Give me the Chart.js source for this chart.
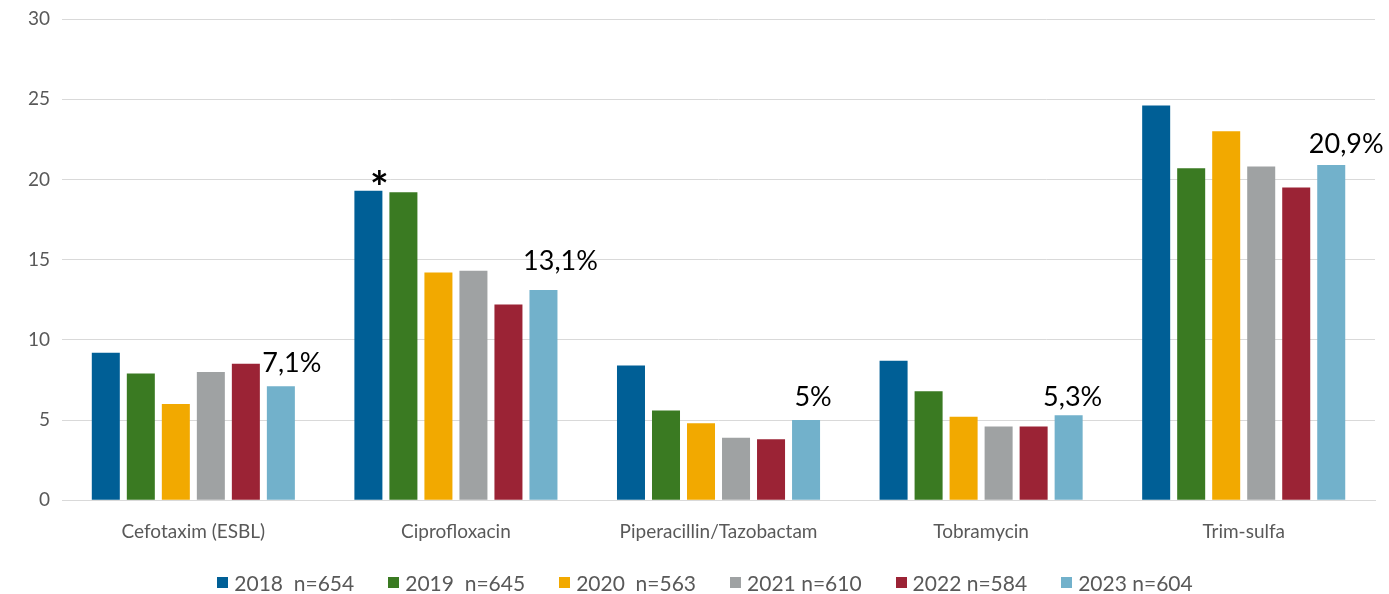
<!DOCTYPE html>
<html>
<head>
<meta charset="utf-8">
<script src="https://cdn.jsdelivr.net/npm/chart.js@4/dist/chart.umd.min.js"></script>
<style>
  html, body { margin: 0; padding: 0; background: #ffffff; }
  #wrap { width: 1389px; height: 594px; position: relative; }
  #legend {
    position: absolute; left: 0; width: 1410px; top: 570px;
    display: flex; justify-content: center; align-items: center;
    font-family: Lato, "Open Sans", sans-serif; font-size: 21px; color: #595959;
  }
  .item { display: flex; align-items: center; margin: 0 17px; white-space: pre; }
  .swatch { width: 11px; height: 11px; margin-right: 6px; }
</style>
</head>
<body>
<div id="wrap">
  <canvas id="resistChart"></canvas>
  <div id="legend"></div>
</div>
<script>
// --- Data ---
const categories = ['Cefotaxim (ESBL)', 'Ciprofloxacin', 'Piperacillin/Tazobactam', 'Tobramycin', 'Trim-sulfa'];
const seriesLabels = ['2018  n=654', '2019  n=645', '2020  n=563', '2021 n=610', '2022 n=584', '2023 n=604'];
const values2018 = [9.2, 19.3, 8.4, 8.7, 24.6];
const values2019 = [7.9, 19.2, 5.6, 6.8, 20.7];
const values2020 = [6.0, 14.2, 4.8, 5.2, 23.0];
const values2021 = [8.0, 14.3, 3.9, 4.6, 20.8];
const values2022 = [8.5, 12.2, 3.8, 4.6, 19.5];
const values2023 = [7.1, 13.1, 5.0, 5.3, 20.9];
const labels2023 = ['7,1%', '13,1%', '5%', '5,3%', '20,9%'];
const yTicks = [0, 5, 10, 15, 20, 25, 30];

// --- Colours ---
const seriesColors = ['#005f96', '#3a7a22', '#f2a900', '#9fa2a3', '#9b2335', '#72b1cb'];

const FONT = 'Lato, "Open Sans", sans-serif';
const TEXT_GREY = '#595959';

// 2023 percent labels + asterisk on Cipro 2018
const annotatePlugin = {
  id: 'annotate',
  afterDatasetsDraw(chart) {
    const ctx = chart.ctx;
    const lastMeta = chart.getDatasetMeta(chart.data.datasets.length - 1);
    const xShift = [11, 17, 7, 4, 15];
    const gap = [14, 20, 14, 9, 12];
    ctx.save();
    ctx.fillStyle = '#000000';
    ctx.font = '27px ' + FONT;
    ctx.textAlign = 'center';
    ctx.textBaseline = 'alphabetic';
    lastMeta.data.forEach((bar, i) => {
      ctx.fillText(labels2023[i], bar.x + xShift[i], bar.y - gap[i]);
    });
    const cipro = chart.getDatasetMeta(0).data[1];
    ctx.font = 'bold 44px ' + FONT;
    ctx.fillText('*', cipro.x + 11, cipro.y + 12);
    ctx.restore();
  }
};

const datasets = [values2018, values2019, values2020, values2021, values2022, values2023].map((vals, i) => ({
  label: seriesLabels[i],
  data: vals,
  backgroundColor: seriesColors[i],
  borderWidth: 0,
  categoryPercentage: 0.8,
  barPercentage: 0.8
}));

new Chart(document.getElementById('resistChart'), {
  type: 'bar',
  data: { labels: categories, datasets },
  options: {
    responsive: true,
    maintainAspectRatio: false,
    animation: false,
    layout: { padding: { top: 0, right: 14, left: 16, bottom: 39 } },
    plugins: {
      legend: { display: false },
      title: { display: false },
      tooltip: { enabled: false }
    },
    scales: {
      x: {
        grid: { display: false },
        border: { display: true, color: '#d9d9d9' },
        ticks: { color: TEXT_GREY, font: { family: FONT, size: 19 }, padding: 12 }
      },
      y: {
        min: 0,
        max: 30,
        afterBuildTicks: axis => { axis.ticks = yTicks.map(v => ({ value: v })); },
        afterFit: axis => { axis.paddingTop = 19; },
        grid: { color: '#d9d9d9', lineWidth: 1, drawTicks: false },
        border: { display: false },
        ticks: { color: TEXT_GREY, font: { family: FONT, size: 19 }, padding: 12 }
      }
    }
  },
  plugins: [annotatePlugin]
});

// --- HTML legend built from the series arrays ---
const legendEl = document.getElementById('legend');
seriesLabels.forEach((lbl, i) => {
  const item = document.createElement('span');
  item.className = 'item';
  const sw = document.createElement('span');
  sw.className = 'swatch';
  sw.style.background = seriesColors[i];
  item.appendChild(sw);
  item.appendChild(document.createTextNode(lbl));
  legendEl.appendChild(item);
});
</script>
</body>
</html>
